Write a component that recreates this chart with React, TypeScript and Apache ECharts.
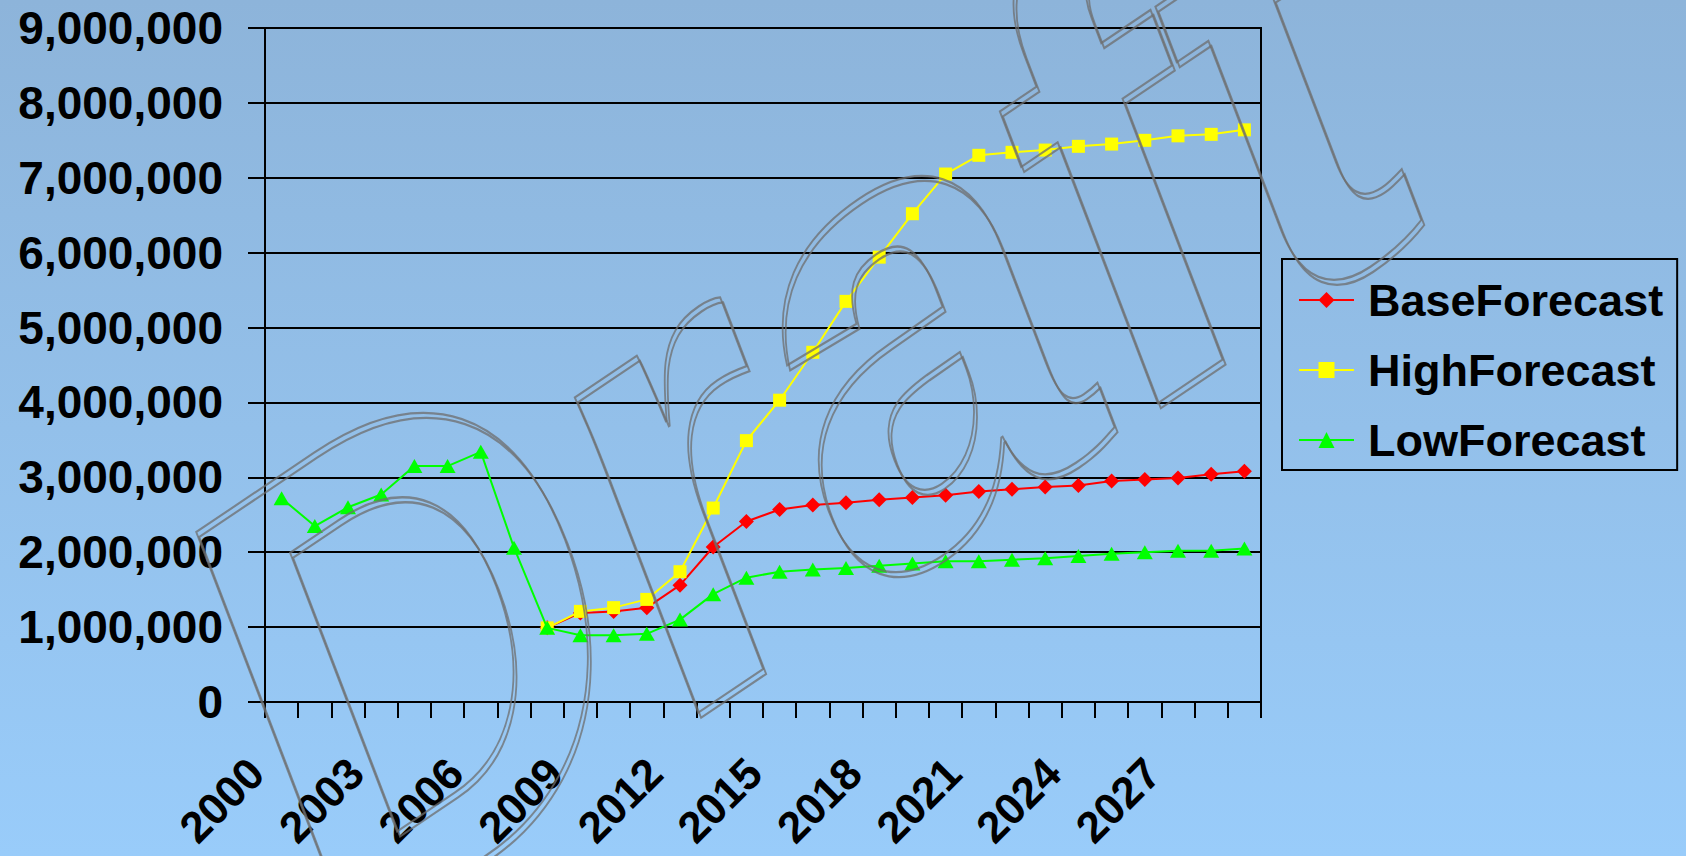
import React, { useEffect, useRef } from "react";
import * as echarts from "echarts";

const years = [
  "2000", "2001", "2002", "2003", "2004", "2005", "2006", "2007", "2008", "2009",
  "2010", "2011", "2012", "2013", "2014", "2015", "2016", "2017", "2018", "2019",
  "2020", "2021", "2022", "2023", "2024", "2025", "2026", "2027", "2028", "2029",
];

const baseForecast = [
  null, null, null, null, null, null, null, null, 990000, 1190000,
  1210000, 1260000, 1560000, 2070000, 2410000, 2570000, 2630000, 2660000, 2700000, 2730000,
  2760000, 2810000, 2840000, 2870000, 2890000, 2950000, 2970000, 2990000, 3040000, 3080000,
];

const highForecast = [
  null, null, null, null, null, null, null, null, 990000, 1210000,
  1260000, 1370000, 1740000, 2590000, 3490000, 4030000, 4670000, 5350000, 5940000, 6520000,
  7050000, 7300000, 7340000, 7370000, 7420000, 7450000, 7500000, 7560000, 7580000, 7640000,
];

const lowForecast = [
  2720000, 2350000, 2600000, 2770000, 3150000, 3150000, 3340000, 2060000, 990000, 890000,
  890000, 910000, 1100000, 1440000, 1660000, 1740000, 1770000, 1790000, 1820000, 1850000,
  1880000, 1880000, 1900000, 1920000, 1950000, 1980000, 2000000, 2020000, 2020000, 2050000,
];

const seriesNames = ["BaseForecast", "HighForecast", "LowForecast"];
const watermarkText = "Draft";

const FONT = '"Liberation Sans", Arial, sans-serif';

export default function App() {
  const ref = useRef<HTMLDivElement>(null);

  useEffect(() => {
    if (!ref.current) return;
    const chart = echarts.init(ref.current, null, { renderer: "svg" });

    const wm = (dx: number, dy: number) => ({
      type: "group",
      x: 243 + dx,
      y: 758 + dy,
      rotation: 1.4968,
      scaleX: 1.4518,
      scaleY: 1.1235,
      silent: true,
      z: 100,
      children: [
        {
          type: "text",
          rotation: -1.024,
          z: 100,
          silent: true,
          style: {
            text: watermarkText,
            font: `bold 468px ${FONT}`,
            fill: "rgba(0,0,0,0)",
            stroke: "rgba(110,110,110,0.75)",
            lineWidth: 1.6,
            align: "left",
            verticalAlign: "middle",
          },
        },
      ],
    });

    const option: any = {
      animation: false,
      backgroundColor: "transparent",
      grid: {
        left: 265,
        right: 425,
        top: 28,
        bottom: 154,
        show: true,
        borderColor: "#000",
        borderWidth: 2,
        backgroundColor: "transparent",
        containLabel: false,
        outerBoundsMode: "none",
      },
      legend: {
        orient: "vertical",
        left: 1282,
        top: 259,
        padding: [18, 14, 7, 16],
        itemGap: 24,
        itemWidth: 55,
        itemHeight: 20,
        borderColor: "#000",
        borderWidth: 2,
        data: seriesNames,
        textStyle: {
          fontFamily: FONT,
          fontWeight: "bold",
          fontSize: 45,
          lineHeight: 46,
          color: "#000",
          padding: [0, 0, 0, 9],
        },
      },
      xAxis: {
        type: "category",
        data: years,
        boundaryGap: true,
        axisLine: { show: true, lineStyle: { color: "#000", width: 2 } },
        axisTick: {
          show: true,
          interval: 0,
          length: 16,
          inside: false,
          lineStyle: { color: "#000", width: 2 },
        },
        axisLabel: {
          interval: 2,
          rotate: 45,
          margin: 38,
          padding: [0, 36, 0, 0],
          fontFamily: FONT,
          fontWeight: "bold",
          fontSize: 44,
          color: "#000",
        },
        splitLine: { show: false },
      },
      yAxis: {
        type: "value",
        min: 0,
        max: 9000000,
        interval: 1000000,
        axisLine: { show: true, lineStyle: { color: "#000", width: 2 } },
        axisTick: {
          show: true,
          length: 17,
          inside: false,
          lineStyle: { color: "#000", width: 2 },
        },
        axisLabel: {
          margin: 42,
          fontFamily: FONT,
          fontWeight: "bold",
          fontSize: 46,
          color: "#000",
          formatter: (v: number) => v.toLocaleString("en-US"),
        },
        splitLine: { show: true, lineStyle: { color: "#000", width: 2 } },
      },
      series: [
        {
          name: seriesNames[0],
          type: "line",
          data: baseForecast,
          symbol: "diamond",
          symbolSize: 15,
          showAllSymbol: true,
          lineStyle: { color: "#ff0000", width: 2 },
          itemStyle: { color: "#ff0000" },
          z: 3,
        },
        {
          name: seriesNames[1],
          type: "line",
          data: highForecast,
          symbol: "rect",
          symbolSize: 13,
          showAllSymbol: true,
          lineStyle: { color: "#ffff00", width: 2 },
          itemStyle: { color: "#ffff00" },
          z: 4,
        },
        {
          name: seriesNames[2],
          type: "line",
          data: lowForecast,
          symbol: "triangle",
          symbolSize: [16, 14],
          showAllSymbol: true,
          lineStyle: { color: "#00ff00", width: 2 },
          itemStyle: { color: "#00ff00" },
          z: 5,
        },
      ],
      graphic: [wm(0, 0), wm(3, 5)],
    };

    chart.setOption(option);
    return () => chart.dispose();
  }, []);

  return (
    <div
      ref={ref}
      style={{
        position: "fixed",
        left: 0,
        top: 0,
        width: 1686,
        height: 856,
        background: "linear-gradient(180deg, #8db4da 0%, #99ccfa 100%)",
      }}
    />
  );
}
